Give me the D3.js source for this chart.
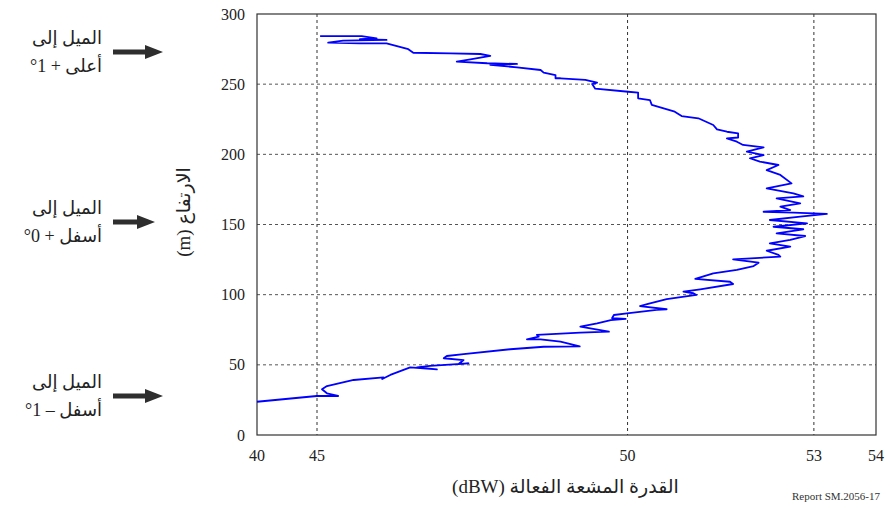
<!DOCTYPE html>
<html>
<head>
<meta charset="utf-8">
<script src="https://cdn.jsdelivr.net/npm/d3@7"></script>
<style>
  html, body { margin: 0; padding: 0; background: #fff; }
  svg { display: block; }
</style>
</head>
<body>
<svg id="chart" width="890" height="508"></svg>
<script>
// Effective radiated power (dBW) versus height (m), in path order
const powerDbw = [
  40.00, 44.98, 45.34, 45.16, 45.08, 45.16, 45.59, 46.07, 46.05, 46.18,
  46.50, 46.93, 46.61, 46.82, 47.44, 47.28, 47.36, 47.04, 47.09, 47.36,
  48.11, 48.65, 49.23, 48.92, 48.60, 48.38, 48.57, 48.54, 49.24, 49.70,
  49.24, 49.51, 49.73, 49.97, 49.75, 49.78, 49.99, 50.47, 50.63, 50.20,
  50.33, 50.63, 51.11, 51.06, 50.90, 51.17, 51.70, 51.65, 51.09, 51.38,
  51.76, 52.03, 52.11, 51.70, 52.46, 52.43, 52.24, 52.62, 52.29, 52.62,
  52.86, 52.40, 52.83, 52.35, 52.89, 52.29, 52.78, 53.21, 52.67, 52.19,
  52.62, 52.46, 52.78, 52.40, 52.83, 52.67, 52.24, 52.64, 52.46, 52.24,
  52.43, 52.13, 51.97, 52.19, 51.92, 52.19, 51.86, 51.76, 51.60, 51.78,
  51.78, 51.60, 51.44, 51.38, 51.14, 50.87, 50.76, 50.39, 50.36, 50.17,
  50.17, 50.01, 49.48, 49.43, 49.51, 49.32, 48.92, 48.84, 48.84, 48.65,
  48.60, 48.22, 47.79, 48.22, 47.74, 47.25, 47.47, 47.79, 47.63, 47.15,
  46.55, 46.47, 46.12, 45.69, 45.18, 45.42, 46.12, 45.69, 45.96, 45.72,
  45.05
];
const heightM = [
  23.7, 27.8, 27.8, 29.7, 32.6, 34.9, 39.2, 41.1, 39.9, 42.8,
  48.2, 46.8, 48.2, 49.2, 51.1, 50.6, 53.4, 54.7, 56.3, 57.7,
  61.1, 62.9, 63.1, 66.5, 68.2, 68.2, 70.1, 71.3, 72.9, 73.6,
  77.2, 79.6, 81.9, 82.7, 83.2, 85.5, 86.7, 89.1, 89.6, 91.9,
  93.4, 96.9, 99.8, 101.0, 102.1, 103.8, 107.6, 109.2, 111.2, 115.2,
  117.6, 120.4, 122.8, 125.2, 127.1, 128.3, 131.3, 134.2, 136.6, 139.0,
  141.8, 143.7, 146.6, 148.4, 150.8, 153.2, 155.6, 157.5, 158.4, 159.1,
  160.3, 162.7, 165.1, 168.6, 170.0, 172.2, 175.8, 179.3, 185.3, 188.8,
  192.4, 194.8, 197.2, 199.5, 201.9, 205.0, 206.7, 209.0, 211.4, 212.0,
  215.0, 216.1, 217.8, 220.9, 225.7, 227.3, 230.4, 235.2, 238.7, 239.9,
  243.9, 244.6, 246.8, 250.1, 251.1, 253.0, 254.2, 254.2, 256.5, 258.2,
  260.1, 262.0, 263.7, 264.4, 264.9, 266.0, 267.7, 270.1, 271.5, 272.0,
  272.4, 274.9, 279.1, 279.1, 279.6, 281.0, 281.5, 282.0, 282.7, 284.3,
  284.3
];

const xTicks = [40, 45, 50, 53, 54];
const yTicks = [0, 50, 100, 150, 200, 250, 300];
const xGrid = [45, 50, 53];
const yGrid = [50, 100, 150, 200, 250];

const xTitle = "القدرة المشعة الفعالة (dBW)";
const yTitle = "الارتفاع (m)";
const tiltLines = [
  ["الميل إلى", "أعلى + 1°"],
  ["الميل إلى", "أسفل + 0°"],
  ["الميل إلى", "أسفل – 1°"]
];
const tiltCentres = [52, 222, 396];
const arrowLengths = [50, 42, 50];
const reportLabel = "Report SM.2056-17";

const serif = "'Liberation Serif', 'Times New Roman', serif";
const arabic = "'Liberation Serif', 'DejaVu Sans', serif";

const svg = d3.select("#chart");
const plot = { left: 257, top: 14, right: 876, bottom: 435 };
const W = plot.right - plot.left, H = plot.bottom - plot.top;

// The 40–45 dBW span is compressed; 45–54 dBW is linear
const x = d3.scaleLinear().domain([40, 45, 54]).range([0, 60, W]);
const y = d3.scaleLinear().domain([0, 300]).range([H, 0]);

const g = svg.append("g").attr("transform", `translate(${plot.left},${plot.top})`);

// dashed grid
g.selectAll(".hgrid").data(yGrid).join("line")
  .attr("x1", 0).attr("x2", W)
  .attr("y1", d => y(d)).attr("y2", d => y(d))
  .attr("stroke", "#555").attr("stroke-width", 1).attr("stroke-dasharray", "3,3");
g.selectAll(".vgrid").data(xGrid).join("line")
  .attr("y1", 0).attr("y2", H)
  .attr("x1", d => x(d)).attr("x2", d => x(d))
  .attr("stroke", "#333").attr("stroke-width", 1).attr("stroke-dasharray", "3,3");

// frame
g.append("rect").attr("x", 0).attr("y", 0).attr("width", W).attr("height", H)
  .attr("fill", "none").attr("stroke", "#333").attr("stroke-width", 1.2);

// tick labels
g.selectAll(".ylab").data(yTicks).join("text")
  .attr("x", -12).attr("y", d => y(d)).attr("dy", "0.35em")
  .attr("text-anchor", "end")
  .style("font-family", serif).style("font-size", "16px").style("fill", "#222")
  .text(d => d);
g.selectAll(".xlab").data(xTicks).join("text")
  .attr("x", d => x(d)).attr("y", H + 26)
  .attr("text-anchor", "middle")
  .style("font-family", serif).style("font-size", "16px").style("fill", "#222")
  .text(d => d);

// profile
const pts = powerDbw.map((p, i) => [p, heightM[i]]);
g.append("path")
  .datum(pts)
  .attr("fill", "none")
  .attr("stroke", "#0000ff")
  .attr("stroke-width", 1.8)
  .attr("stroke-linejoin", "round")
  .attr("d", d3.line().x(d => x(d[0])).y(d => y(d[1])));

// axis titles
svg.append("text")
  .attr("x", plot.left + W / 2 - 1).attr("y", 493)
  .attr("text-anchor", "middle").attr("direction", "rtl")
  .style("font-family", arabic).style("font-size", "19px").style("fill", "#222")
  .text(xTitle);
svg.append("text")
  .attr("transform", "translate(190,212) rotate(-90)")
  .attr("text-anchor", "middle").attr("direction", "rtl")
  .style("font-family", arabic).style("font-size", "19px").style("fill", "#222")
  .text(yTitle);

// tilt annotations with arrows
tiltLines.forEach((lines, i) => {
  const cy = tiltCentres[i];
  lines.forEach((t, j) => {
    svg.append("text")
      .attr("x", 102).attr("y", cy - 8 + j * 28)
      .attr("text-anchor", "start").attr("direction", "rtl")
      .style("font-family", arabic).style("font-size", "18px").style("fill", "#222")
      .text(t);
  });
  const x0 = 113, x1 = x0 + arrowLengths[i], hl = 18, hw = 7, sw = 2.5;
  svg.append("path")
    .attr("d", `M${x0},${cy - sw} L${x1 - hl},${cy - sw} L${x1 - hl},${cy - hw} L${x1},${cy} L${x1 - hl},${cy + hw} L${x1 - hl},${cy + sw} L${x0},${cy + sw} Z`)
    .attr("fill", "#2e2e2e");
});

svg.append("text")
  .attr("x", 880).attr("y", 500)
  .attr("text-anchor", "end")
  .style("font-family", serif)
  .style("font-size", "11px").style("fill", "#333")
  .text(reportLabel);
</script>
</body>
</html>
